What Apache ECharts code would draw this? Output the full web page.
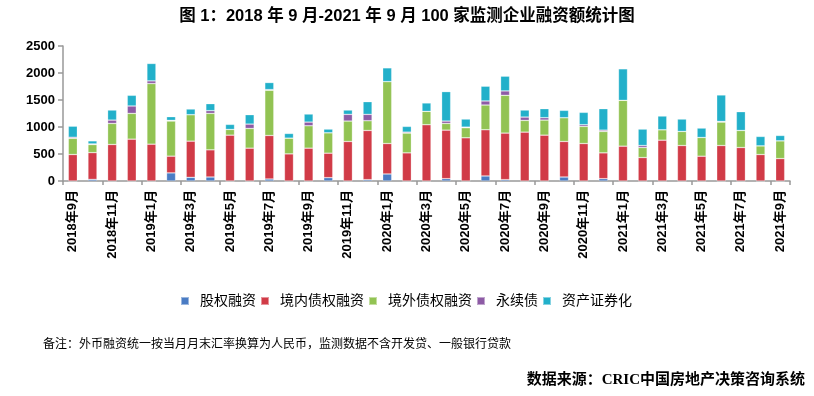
<!DOCTYPE html>
<html><head><meta charset="utf-8">
<script src="https://cdn.jsdelivr.net/npm/echarts@6/dist/echarts.min.js"></script>
<style>html,body{margin:0;padding:0;background:#fff}#c{width:814px;height:396px}</style>
</head><body><div id="c"></div>
<script>
const categories = (function(){const a=[];for(let y=2018,m=9;y<2021||(y===2021&&m<=9);){a.push(y+'年'+m+'月');m++;if(m>12){m=1;y++;}}return a;})();
const seriesNames = ['股权融资','境内债权融资','境外债权融资','永续债','资产证券化'];
const equity   = [0,30,0,0,0,150,68,74,0,0,37,0,0,62,0,25,130,0,0,43,0,93,25,0,0,74,0,43,0,0,0,0,0,0,0,0,0];
const domestic = [490,495,676,775,682,310,670,503,849,608,806,502,608,453,732,911,564,521,1042,899,800,856,862,905,849,658,694,478,645,434,756,657,459,657,620,490,415];
const overseas = [300,150,390,477,1122,651,490,675,106,365,837,292,415,378,378,180,1147,366,248,124,186,458,700,217,279,440,317,397,849,186,193,261,347,434,316,161,329];
const perpetual= [20,12,62,137,50,12,0,50,0,81,13,0,68,0,124,118,0,18,0,44,12,75,81,62,44,0,31,24,0,37,0,0,0,13,0,0,0];
const abs      = [205,56,186,198,322,68,105,130,93,174,130,86,149,68,80,235,254,106,155,545,149,273,273,130,167,136,229,397,583,304,254,229,174,489,347,174,99];
const yTicks = [0,500,1000,1500,2000,2500];
const titleText = '图 1：2018 年 9 月-2021 年 9 月 100 家监测企业融资额统计图';
const noteText = '备注：外币融资统一按当月月末汇率换算为人民币，监测数据不含开发贷、一般银行贷款';
const sourceText = '数据来源：CRIC中国房地产决策咨询系统';

const colors = ['#4a7cc4','#d13b47','#92c353','#8d5ba5','#22b0ca'];
const values = [equity, domestic, overseas, perpetual, abs];
const FONT = '"Liberation Sans", Arial, "Noto Sans CJK SC", sans-serif';

const chart = echarts.init(document.getElementById('c'), null, {renderer:'canvas'});
chart.setOption({
  animation:false,
  color: colors,
  title:{text:titleText,left:'center',top:3,textStyle:{fontFamily:FONT,fontSize:16.5,fontWeight:'bold',color:'#000'}},
  grid:{left:63,right:24,top:46,bottom:215,containLabel:false},
  legend:{left:175,top:289,itemWidth:8,itemHeight:8,itemGap:4,icon:'rect',
    textStyle:{fontFamily:FONT,fontSize:14,color:'#000',padding:[0,0,0,6]},
    data:seriesNames},
  xAxis:{type:'category',data:categories,boundaryGap:true,
    axisLine:{lineStyle:{color:'#999',width:1.5}},
    axisTick:{show:true,length:4,lineStyle:{color:'#999',width:1.5}},
    axisLabel:{rotate:90,interval:1,margin:9,fontFamily:FONT,fontSize:13,fontWeight:'bold',color:'#000'}},
  yAxis:{type:'value',min:yTicks[0],max:yTicks[yTicks.length-1],interval:500,
    axisLine:{show:true,lineStyle:{color:'#999',width:1.5}},
    axisTick:{show:true,length:5,lineStyle:{color:'#999',width:1.5}},
    splitLine:{show:false},
    axisLabel:{margin:8,fontFamily:FONT,fontSize:13,fontWeight:'bold',color:'#000',formatter:v=>String(v)}},
  series: seriesNames.map((n,i)=>({name:n,type:'bar',stack:'total',barWidth:9,data:values[i],
    itemStyle:{color:colors[i],borderColor:'rgba(255,255,255,0.45)',borderWidth:0.6}})),
  graphic:[
    {type:'text',left:43,top:339,style:{text:noteText,font:'12px '+FONT,fill:'#000'}},
    {type:'text',right:9,top:373,style:{text:sourceText,font:'bold 15px "Liberation Serif", "Noto Sans CJK SC", serif',fill:'#000'}}
  ]
});
</script></body></html>
